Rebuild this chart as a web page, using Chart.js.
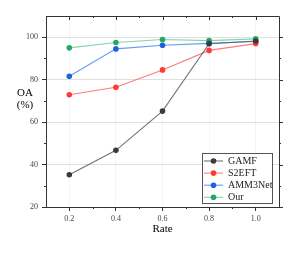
<!DOCTYPE html>
<html>
<head>
    <title>OA vs Rate</title>
    <script src="https://cdn.jsdelivr.net/npm/chart.js"></script>
    <style>
        html, body { margin: 0; padding: 0; background: #fff; }
        #wrap { width: 299px; height: 253px; }
    </style>
</head>
<body>
<div id="wrap">
    <canvas id="lineChart" width="299" height="253"></canvas>
</div>
<script>
    const rates = [0.2, 0.4, 0.6, 0.8, 1.0];
    const gamf = [35.2, 46.7, 65.2, 96.9, 98.2];
    const s2eft = [72.9, 76.4, 84.6, 93.8, 97.0];
    const amm3net = [81.6, 94.5, 96.2, 97.1, 98.0];
    const our = [95.0, 97.5, 98.9, 98.4, 99.2];
    const xTicks = [0.2, 0.4, 0.6, 0.8, 1.0];
    const yTicks = [20, 40, 60, 80, 100];

    const serif = '"Liberation Serif", "DejaVu Serif", serif';

    function series(label, vals, line, dot) {
        return {
            label: label,
            data: rates.map((r, i) => ({ x: r, y: vals[i] })),
            borderColor: line,
            backgroundColor: dot,
            pointBackgroundColor: dot,
            pointBorderColor: dot,
            pointRadius: 2.8,
            pointBorderWidth: 0,
            borderWidth: 1.1,
            tension: 0,
            fill: false
        };
    }

    const datasets = [
        series('GAMF', gamf, 'rgba(90,90,90,0.85)', '#3a3a3a'),
        series('S2EFT', s2eft, 'rgba(255,90,90,0.8)', '#ff3a3a'),
        series('AMM3Net', amm3net, 'rgba(60,130,235,0.8)', '#1f62e0'),
        series('Our', our, 'rgba(90,200,140,0.75)', '#26a865')
    ];
    // draw order: GAMF on top like the reference
    datasets.forEach((d, i) => { d.order = i; });

    // frame, minor ticks, axis titles and the inset legend
    const extras = {
        id: 'extras',
        afterDraw(chart) {
            const ctx = chart.ctx;
            const a = chart.chartArea;
            const xs = chart.scales.x;
            const ys = chart.scales.y;
            ctx.save();
            ctx.strokeStyle = '#333';
            ctx.lineWidth = 1;
            // top and right borders
            ctx.beginPath();
            ctx.moveTo(a.left, a.top + 0.5);
            ctx.lineTo(a.right + 0.5, a.top + 0.5);
            ctx.lineTo(a.right + 0.5, a.bottom);
            ctx.stroke();
            // major ticks on top (inward) and right (outward)
            ctx.beginPath();
            xTicks.forEach(v => {
                const px = Math.round(xs.getPixelForValue(v)) + 0.5;
                ctx.moveTo(px, a.top);
                ctx.lineTo(px, a.top + 4);
            });
            yTicks.forEach(v => {
                const py = Math.round(ys.getPixelForValue(v)) + 0.5;
                ctx.moveTo(a.right, py);
                ctx.lineTo(a.right + 4, py);
            });
            // minor ticks
            [0.3, 0.5, 0.7, 0.9].forEach(v => {
                const px = Math.round(xs.getPixelForValue(v)) + 0.5;
                ctx.moveTo(px, a.bottom);
                ctx.lineTo(px, a.bottom + 2);
                ctx.moveTo(px, a.top);
                ctx.lineTo(px, a.top + 2);
            });
            [30, 50, 70, 90].forEach(v => {
                const py = Math.round(ys.getPixelForValue(v)) + 0.5;
                ctx.moveTo(a.left, py);
                ctx.lineTo(a.left - 2, py);
                ctx.moveTo(a.right, py);
                ctx.lineTo(a.right + 2, py);
            });
            ctx.stroke();

            // axis titles
            ctx.fillStyle = '#000';
            ctx.font = '11px ' + serif;
            ctx.textAlign = 'center';
            ctx.textBaseline = 'middle';
            ctx.fillText('Rate', (a.left + a.right) / 2, 229);
            ctx.fillText('OA', 25, 93);
            ctx.fillText('(%)', 25, 105);

            // legend box
            const bx = 202, by = 153, bw = 70, bh = 50;
            ctx.fillStyle = '#fff';
            ctx.fillRect(bx, by, bw, bh);
            ctx.strokeStyle = '#555';
            ctx.strokeRect(bx + 0.5, by + 0.5, bw, bh);
            ctx.font = '10px ' + serif;
            ctx.textAlign = 'left';
            chart.data.datasets.forEach((d, i) => {
                const cy = 161 + i * 12.1;
                ctx.strokeStyle = d.borderColor;
                ctx.lineWidth = 1.1;
                ctx.beginPath();
                ctx.moveTo(bx + 2, cy);
                ctx.lineTo(bx + 21, cy);
                ctx.stroke();
                ctx.fillStyle = d.pointBackgroundColor;
                ctx.beginPath();
                ctx.arc(bx + 11.5, cy, 2.8, 0, Math.PI * 2);
                ctx.fill();
                ctx.fillStyle = '#222';
                ctx.fillText(d.label, bx + 26, cy + 0.5);
            });
            ctx.restore();
        }
    };

    new Chart(document.getElementById('lineChart').getContext('2d'), {
        type: 'line',
        data: { datasets: datasets },
        options: {
            responsive: false,
            animation: false,
            layout: { padding: { left: 0, right: 20, top: 16, bottom: 0 } },
            plugins: { legend: { display: false }, tooltip: { enabled: false } },
            scales: {
                x: {
                    type: 'linear',
                    min: 0.1,
                    max: 1.1,
                    afterBuildTicks: s => { s.ticks = xTicks.map(v => ({ value: v })); },
                    afterFit: s => { s.height = 46; },
                    ticks: {
                        color: '#444',
                        font: { family: serif, size: 8 },
                        padding: 3,
                        maxRotation: 0,
                        callback: v => Number(v).toFixed(1)
                    },
                    grid: {
                        color: 'rgba(0,0,0,0.04)',
                        tickColor: '#333',
                        tickLength: 4,
                        lineWidth: 1
                    },
                    border: { display: true, color: '#333', width: 1 }
                },
                y: {
                    min: 20,
                    max: 110,
                    afterBuildTicks: s => { s.ticks = yTicks.map(v => ({ value: v })); },
                    afterFit: s => { s.width = 46; },
                    ticks: {
                        color: '#444',
                        font: { family: serif, size: 8 },
                        padding: 4
                    },
                    grid: {
                        color: 'rgba(0,0,0,0.12)',
                        tickColor: '#333',
                        tickLength: 4,
                        lineWidth: 1
                    },
                    border: { display: true, color: '#333', width: 1 }
                }
            }
        },
        plugins: [extras]
    });
</script>
</body>
</html>
